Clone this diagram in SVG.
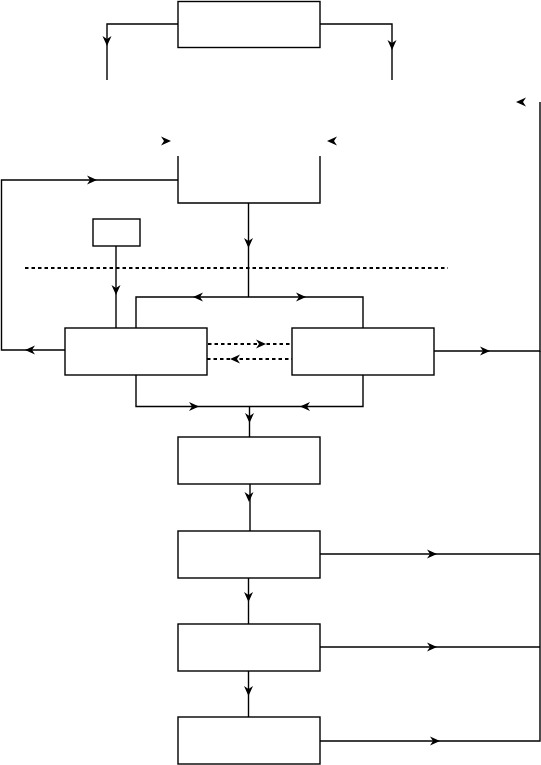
<svg xmlns="http://www.w3.org/2000/svg" xmlns:xlink="http://www.w3.org/1999/xlink" width="541" height="765" viewBox="0 0 541 765">
<style>
.n{fill:none;stroke:#000;stroke-width:1.4}
.c{fill:none;stroke:#000;stroke-width:1.4}
.d{fill:none;stroke:#000;stroke-width:2;stroke-dasharray:3.5,3}
.a{fill:#000;stroke:none}
</style>
<defs>
<path id="ah" d="M0,0 L-10,-4.5 L-7,0 L-10,4.5 Z"/>
</defs>
<rect width="541" height="765" fill="#fff"/>
<g id="top-box"><rect class="n" x="178" y="1.5" width="142" height="46"/></g>
<g id="open-box"><path class="n" d="M178,156 V203 H320 V156"/></g>
<g id="small-box"><rect class="n" x="93" y="219" width="47" height="27"/></g>
<g id="left-box"><rect class="n" x="65" y="328" width="142" height="47"/></g>
<g id="right-box"><rect class="n" x="292" y="328" width="142" height="47"/></g>
<g id="box-a"><rect class="n" x="178" y="437" width="142" height="47"/></g>
<g id="box-b"><rect class="n" x="178" y="531" width="142" height="47"/></g>
<g id="box-c"><rect class="n" x="178" y="624" width="142" height="47"/></g>
<g id="box-d"><rect class="n" x="178" y="717" width="142" height="47"/></g>
<g id="separator"><line class="d" x1="25" y1="268" x2="448" y2="268"/></g>
<g id="connectors">
<path class="c" d="M178,24 H107 V80"/>
<path class="c" d="M320,24 H392 V80"/>
<path class="c" d="M178,180 H1.5 V350 H65"/>
<path class="c" d="M248.5,203 V297"/>
<path class="c" d="M136,328 V297 H363 V328"/>
<path class="c" d="M116,246 V328"/>
<line class="d" x1="208" y1="344" x2="292" y2="344"/>
<line class="d" x1="207" y1="359" x2="292" y2="359"/>
<path class="c" d="M434,351 H540 V102"/>
<path class="c" d="M136,375 V406.5 H363 V375"/>
<path class="c" d="M249.5,406.5 V437"/>
<path class="c" d="M250,484 V531"/>
<path class="c" d="M248.5,578 V624"/>
<path class="c" d="M248.5,671 V717"/>
<path class="c" d="M320,554 H540"/>
<path class="c" d="M320,647 H540"/>
<path class="c" d="M320,741 H540 V351"/>
<use class="a" xlink:href="#ah" transform="translate(107,46) rotate(90)"/>
<use class="a" xlink:href="#ah" transform="translate(392,50) rotate(90)"/>
<use class="a" xlink:href="#ah" transform="translate(171,141)"/>
<use class="a" xlink:href="#ah" transform="translate(327,141) rotate(180)"/>
<use class="a" xlink:href="#ah" transform="translate(516,102) rotate(180)"/>
<use class="a" xlink:href="#ah" transform="translate(97,180)"/>
<use class="a" xlink:href="#ah" transform="translate(25,350) rotate(180)"/>
<use class="a" xlink:href="#ah" transform="translate(248.5,248) rotate(90)"/>
<use class="a" xlink:href="#ah" transform="translate(116,295) rotate(90)"/>
<use class="a" xlink:href="#ah" transform="translate(193,297) rotate(180)"/>
<use class="a" xlink:href="#ah" transform="translate(306,297)"/>
<use class="a" xlink:href="#ah" transform="translate(266,344)"/>
<use class="a" xlink:href="#ah" transform="translate(230,359) rotate(180)"/>
<use class="a" xlink:href="#ah" transform="translate(490,351)"/>
<use class="a" xlink:href="#ah" transform="translate(199,406.5)"/>
<use class="a" xlink:href="#ah" transform="translate(300,406.5) rotate(180)"/>
<use class="a" xlink:href="#ah" transform="translate(249.5,423) rotate(90)"/>
<use class="a" xlink:href="#ah" transform="translate(249,502) rotate(90)"/>
<use class="a" xlink:href="#ah" transform="translate(248.5,602) rotate(90)"/>
<use class="a" xlink:href="#ah" transform="translate(248.5,696) rotate(90)"/>
<use class="a" xlink:href="#ah" transform="translate(437,554)"/>
<use class="a" xlink:href="#ah" transform="translate(437,647)"/>
<use class="a" xlink:href="#ah" transform="translate(440,741)"/>
</g>
</svg>
